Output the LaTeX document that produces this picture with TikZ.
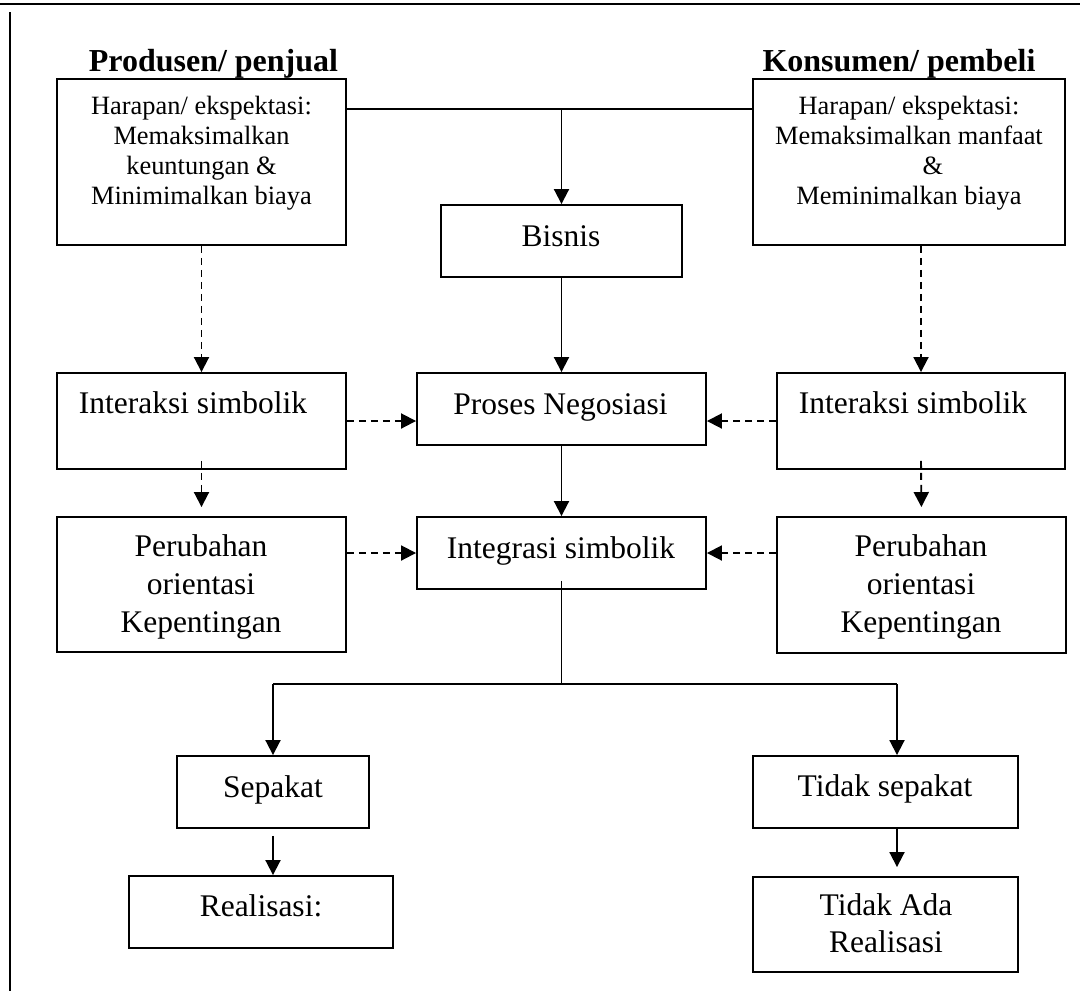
\documentclass[tikz,border=0pt]{standalone}
\usepackage{fontspec}
\setmainfont{Liberation Serif}
\usetikzlibrary{arrows.meta,calc}
\begin{document}
\begin{tikzpicture}[x=1pt,y=-1pt,
  box/.style={draw,line width=1.9pt,inner sep=0pt,rectangle},
  txt/.style={anchor=base,inner sep=0pt,font=\fontsize{31.5}{37}\selectfont},
  stxt/.style={anchor=base,inner sep=0pt,font=\fontsize{26.4}{30}\selectfont},
  ttl/.style={anchor=base,inner sep=0pt,font=\fontsize{32}{36}\selectfont\bfseries},
  conn/.style={line width=1.9pt},
  arr/.style={conn,-{Triangle[width=15pt,length=15pt]}},
  darr/.style={arr,dash pattern=on 7pt off 5pt}]
\useasboundingbox (0,0) rectangle (1080,991);
% frame
\draw[line width=2pt] (0,4) -- (1080,4);
\draw[line width=2pt] (10,12) -- (10,991);
% boxes
\node[box,minimum width=289pt,minimum height=166pt] (p1) at (201.5,162) {};
\node[box,minimum width=312pt,minimum height=166pt] (k1) at (909,162) {};
\node[box,minimum width=241pt,minimum height=72pt] (bis) at (561.5,241) {};
\node[box,minimum width=289pt,minimum height=72pt] (pn) at (561.5,409) {};
\node[box,minimum width=289pt,minimum height=96pt] (inl) at (201.5,421) {};
\node[box,minimum width=288pt,minimum height=96pt] (inr) at (921,421) {};
\node[box,minimum width=289pt,minimum height=135pt] (perl) at (201.5,584.5) {};
\node[box,minimum width=289pt,minimum height=136pt] (perr) at (921.5,585) {};
\node[box,minimum width=289pt,minimum height=72pt] (int) at (561.5,553) {};
\node[box,minimum width=192pt,minimum height=72pt] (sep) at (273,792) {};
\node[box,minimum width=264pt,minimum height=72pt] (real) at (261,912) {};
\node[box,minimum width=265pt,minimum height=72pt] (tsep) at (885.5,792) {};
\node[box,minimum width=265pt,minimum height=95pt] (tad) at (885.5,924.5) {};
% titles
\node[ttl] (tp) at (213.5,71) {Produsen/ penjual};
\node[ttl] (tk) at (899,71) {Konsumen/ pembeli};
% texts
\node[stxt] (p1a) at (201.5,114) {Harapan/ ekspektasi:};
\node[stxt] (p1b) at (201.5,144) {Memaksimalkan};
\node[stxt] (p1c) at (201.5,174) {keuntungan \&};
\node[stxt] (p1d) at (201.5,204) {Minimimalkan biaya};
\node[stxt] (k1a) at (909,114) {Harapan/ ekspektasi:};
\node[stxt] (k1b) at (909,144) {Memaksimalkan manfaat};
\node[stxt] (k1c) at (933,174) {\&};
\node[stxt] (k1d) at (909,204) {Meminimalkan biaya};
\node[txt] (bist) at (561,246) {Bisnis};
\node[txt] (pnt) at (560.5,414) {Proses Negosiasi};
\node[txt] (inlt) at (193,413) {Interaksi simbolik};
\node[txt] (inrt) at (913,413) {Interaksi simbolik};
\node[txt] (perla) at (201,556) {Perubahan};
\node[txt] (perlb) at (201,594) {orientasi};
\node[txt] (perlc) at (201,632) {Kepentingan};
\node[txt] (perra) at (921,556) {Perubahan};
\node[txt] (perrb) at (921,594) {orientasi};
\node[txt] (perrc) at (921,632) {Kepentingan};
\node[txt] (intt) at (561,558) {Integrasi simbolik};
\node[txt] (sept) at (273,797) {Sepakat};
\node[txt] (realt) at (261,916) {Realisasi:};
\node[txt] (tsept) at (885,796) {Tidak sepakat};
\node[txt] (tada) at (886,915) {Tidak Ada};
\node[txt] (tadb) at (886,952) {Realisasi};
% connectors
\coordinate (top) at (561.5,109);
\draw[conn] (p1.east |- top) -- (k1.west |- top);
\draw[arr] (top) -- (bis.north);
\draw[arr] (bis.south) -- (pn.north);
\draw[arr] (pn.south) -- (int.north);
\draw[darr] (p1.south) -- (inl.north);
\draw[darr] (inr.north |- k1.south) -- (inr.north);
\draw[darr,shorten >=9pt] ([yshift=9pt]inl.south) -- (perl.north);
\draw[darr,shorten >=9pt] ([yshift=9pt]inr.south) -- (perr.north);
\draw[darr] (inl.east) -- (inl.east -| pn.west);
\draw[darr] (inr.west) -- (inr.west -| pn.east);
\draw[darr] (perl.east |- int.west) -- (int.west);
\draw[darr] (perr.west |- int.east) -- (int.east);
\coordinate (jl) at (273,684);
\coordinate (jr) at (897,684);
\draw[conn] ([yshift=9pt]int.south) -- (int.south |- jl);
\draw[conn] (jl) -- (jr);
\draw[arr] (jl) -- (sep.north);
\draw[arr] (jr) -- (jr |- tsep.north);
\draw[arr] ([yshift=-7pt]sep.south) -- (sep.south |- real.north);
\draw[arr,shorten >=9pt] (jr |- tsep.south) -- (jr |- tad.north);
\end{tikzpicture}
\end{document}
